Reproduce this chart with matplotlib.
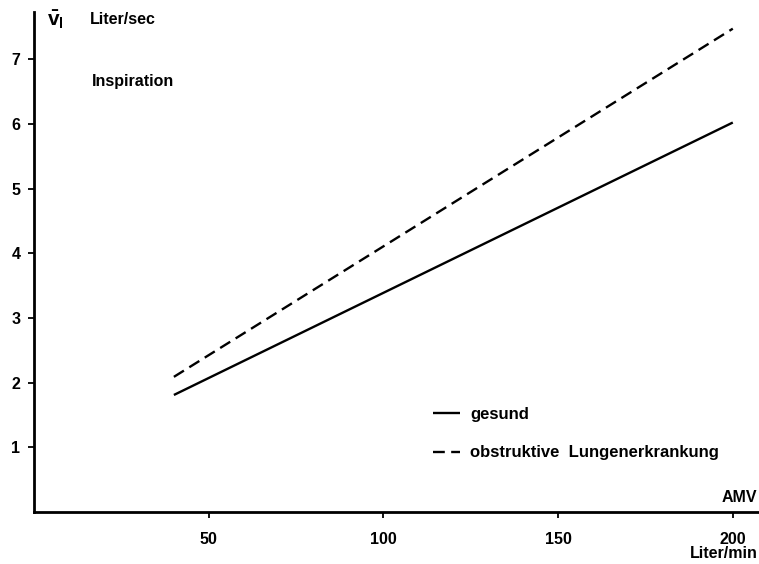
import matplotlib.pyplot as plt

plt.rcParams['font.family'] = ['Liberation Sans', 'DejaVu Sans']
plt.rcParams['font.weight'] = 'bold'
plt.rcParams['mathtext.fontset'] = 'custom'
plt.rcParams['mathtext.rm'] = 'Liberation Sans:bold'
plt.rcParams['mathtext.it'] = 'Liberation Sans:bold'
plt.rcParams['mathtext.bf'] = 'Liberation Sans:bold'

# AMV (Liter/min) at the ends of each line
amv = [40, 200]
gesund = [1.81, 6.02]
obstruktiv = [2.09, 7.47]

x_ticks = [50, 100, 150, 200]
y_ticks = [1, 2, 3, 4, 5, 6, 7]

fig = plt.figure(figsize=(7.59, 5.64), dpi=100)
ax = fig.add_axes([0.045, 0.092, 0.955, 0.887])

ax.plot(amv, gesund, color='black', linewidth=1.7, solid_capstyle='butt',
        label='gesund')
ax.plot(amv, obstruktiv, color='black', linewidth=1.7, dashes=(5, 2.7),
        dash_capstyle='butt', label='obstruktive  Lungenerkrankung')

ax.set_xlim(0, 207.5)
ax.set_ylim(0, 7.73)
ax.set_xticks(x_ticks)
ax.set_yticks(y_ticks)
ax.tick_params(axis='both', direction='out', length=4, width=1.3,
               labelsize=11.5)
ax.tick_params(axis='x', pad=10)
ax.tick_params(axis='y', pad=6)

for side in ['top', 'right']:
    ax.spines[side].set_visible(False)
for side in ['left', 'bottom']:
    ax.spines[side].set_linewidth(2)

# axis annotations
ax.text(0.018, 0.984, r'$\bar{v}_l$', transform=ax.transAxes, fontsize=15,
        ha='left', va='center')
ax.text(0.077, 0.985, 'Liter/sec', transform=ax.transAxes, fontsize=11.5,
        ha='left', va='center')
ax.text(0.08, 0.86, 'Inspiration', transform=ax.transAxes, fontsize=11.5,
        ha='left', va='center')
ax.text(0.998, 0.03, 'AMV', transform=ax.transAxes, fontsize=11.5,
        ha='right', va='center')
ax.text(0.998, -0.082, 'Liter/min', transform=ax.transAxes, fontsize=11.5,
        ha='right', va='center', clip_on=False)

ax.legend(loc='upper left', bbox_to_anchor=(0.53, 0.24), frameon=False,
          fontsize=12, handlelength=1.6, handletextpad=0.6, labelspacing=1.4)

fig.savefig('out.png', dpi=100)
